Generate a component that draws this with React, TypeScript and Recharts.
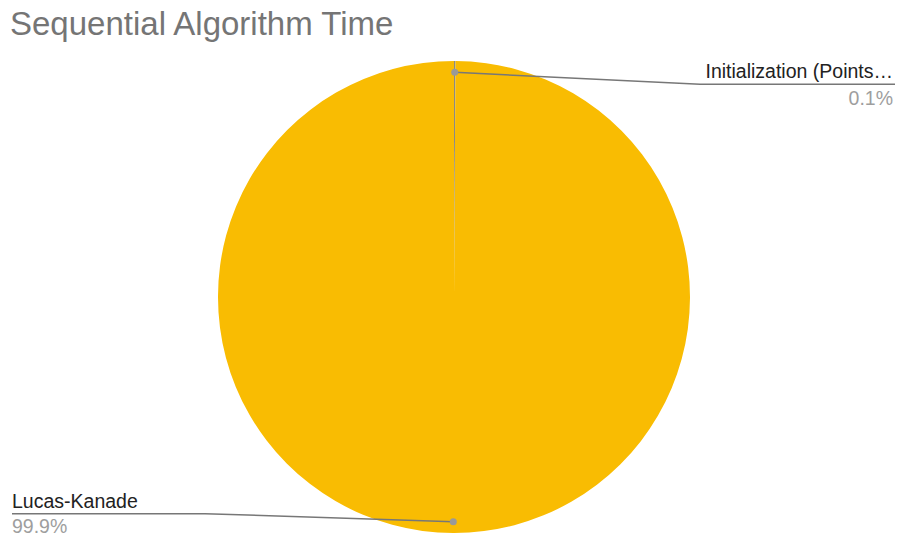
import React from 'react';
import { PieChart, Pie, Cell } from 'recharts';

const categories = ['Initialization (Points…', 'Lucas-Kanade'];
const values = [0.1, 99.9];
const percentLabels = ['0.1%', '99.9%'];
const colors = ['#8a8a86', '#f9bc02'];

const data = categories.map((name, i) => ({ name, value: values[i] }));

const W = 901;
const H = 535;
const RADIAN = Math.PI / 180;
const FONT = 'Liberation Sans, Arial, sans-serif';

const renderLabel = (props: any) => {
  const { cx, cy, midAngle, outerRadius, index } = props;
  const r = outerRadius * 0.952;
  const x0 = cx + r * Math.cos(-midAngle * RADIAN);
  const y0 = cy + r * Math.sin(-midAngle * RADIAN);
  const right = x0 >= cx;
  if (right) {
    const ly = y0 + 12;
    const xEnd = W - 6;
    const xBend = 700;
    return (
      <g key={`lbl-${index}`}>
        <path d={`M${x0},${y0}L${xBend},${ly}L${xEnd},${ly}`} stroke='#777' strokeWidth={1.5} fill='none' />
        <circle cx={x0} cy={y0} r={3.5} fill='#999' />
        <text x={xEnd - 2} y={ly - 6} textAnchor='end' fontSize={19.5} fill='#222' fontFamily={FONT}>
          {categories[index]}
        </text>
        <text x={xEnd - 2} y={ly + 21} textAnchor='end' fontSize={19.5} fill='#9e9e9e' fontFamily={FONT}>
          {percentLabels[index]}
        </text>
      </g>
    );
  }
  const ly = y0 - 8;
  const xStart = 12;
  const xBend = 205;
  return (
    <g key={`lbl-${index}`}>
      <path d={`M${x0},${y0}L${xBend},${ly}L${xStart},${ly}`} stroke='#777' strokeWidth={1.5} fill='none' />
      <circle cx={x0} cy={y0} r={3.5} fill='#999' />
      <text x={xStart} y={ly - 6} textAnchor='start' fontSize={19.5} fill='#222' fontFamily={FONT}>
        {categories[index]}
      </text>
      <text x={xStart} y={ly + 19} textAnchor='start' fontSize={19.5} fill='#9e9e9e' fontFamily={FONT}>
        {percentLabels[index]}
      </text>
    </g>
  );
};

export default function App() {
  return (
    <div style={{ position: 'absolute', left: 0, top: 0, width: W, height: H, background: '#fff' }}>
      <div
        style={{
          position: 'absolute',
          left: 10,
          top: 5,
          fontFamily: FONT,
          fontSize: 33,
          color: '#757575',
          whiteSpace: 'nowrap',
        }}
      >
        Sequential Algorithm Time
      </div>
      <PieChart width={W} height={H} margin={{ top: 0, right: 0, bottom: 0, left: 0 }}>
        <Pie
          data={data}
          dataKey='value'
          nameKey='name'
          cx={454}
          cy={297}
          outerRadius={236}
          startAngle={90}
          endAngle={-270}
          stroke='none'
          isAnimationActive={false}
          label={renderLabel}
          labelLine={false}
        >
          {data.map((entry, i) => (
            <Cell key={`cell-${i}`} fill={colors[i]} />
          ))}
        </Pie>
      </PieChart>
    </div>
  );
}
